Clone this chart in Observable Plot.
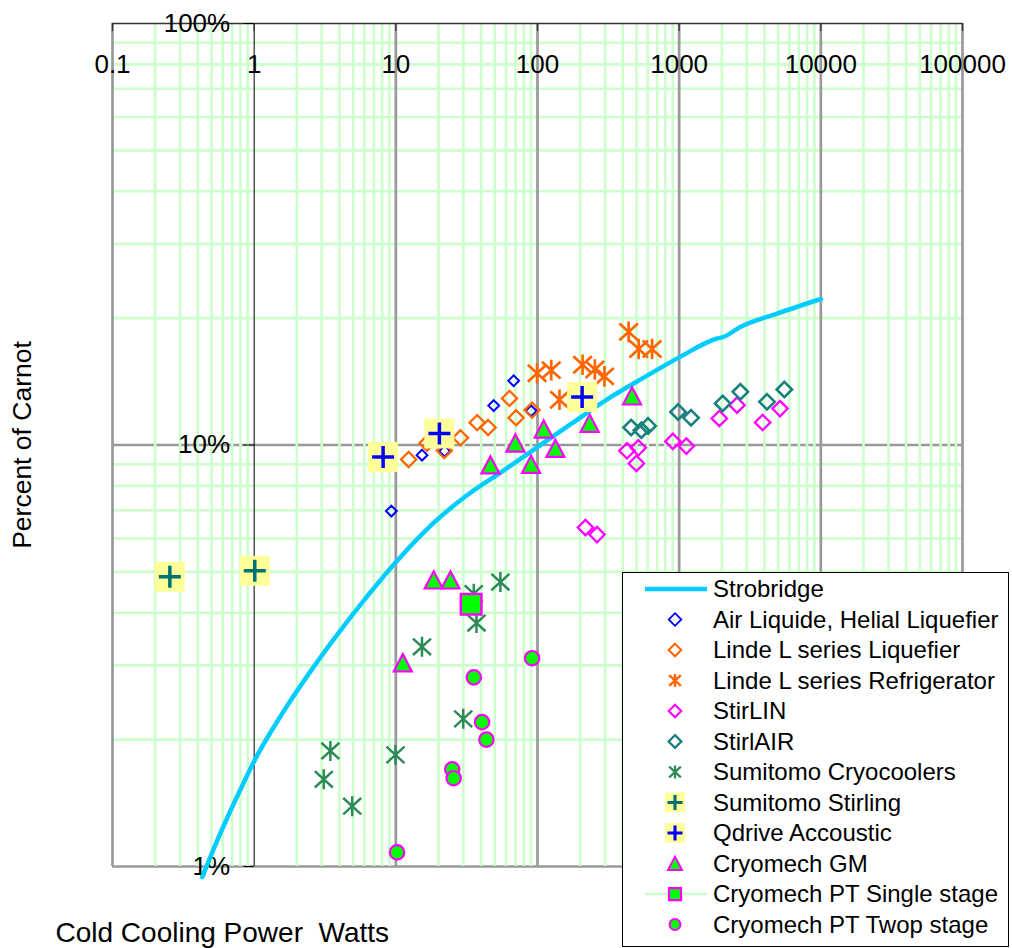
<!DOCTYPE html>
<html><head><meta charset="utf-8">
<script src="https://cdn.jsdelivr.net/npm/d3@7"></script>
<script src="https://cdn.jsdelivr.net/npm/@observablehq/plot@0.6"></script>
<style>
html,body{margin:0;padding:0;background:#fff;}
#wrap{position:relative;width:1012px;height:948px;font-family:"Liberation Sans",Arial,sans-serif;}
</style></head>
<body><div id="wrap"></div>
<script>
// ---------- data ----------
const xTicks = [0.1, 1, 10, 100, 1000, 10000, 100000];
const xTickLabels = ["0.1", "1", "10", "100", "1000", "10000", "100000"];
const yTicks = [1, 10, 100];
const yTickLabels = ["1%", "10%", "100%"];

const strobridgeW   = [0.43, 0.501, 0.631, 0.794, 1, 1.585, 2.512, 3.981, 6.31, 10, 17.78, 31.62, 56.23, 100, 177.8, 316.2, 562.3, 1000, 1851, 2059, 2704, 4909, 10000];
const strobridgePct = [0.944, 1.072, 1.282, 1.514, 1.778, 2.312, 2.911, 3.597, 4.385, 5.272, 6.457, 7.586, 8.65, 9.886, 11.3, 12.88, 14.45, 16.14, 17.89, 18.05, 19.06, 20.5, 22.2];

const airLiquideW   = [9.3, 15.3, 22.1, 49.1, 67.9, 90.2];
const airLiquidePct = [6.97, 9.46, 9.67, 12.4, 14.2, 12.05];

const lindeLiqW   = [12.3, 16.6, 22, 28.6, 37.5, 44.8, 63.4, 70.6, 91.6];
const lindeLiqPct = [9.24, 10.1, 9.7, 10.4, 11.3, 11.0, 12.9, 11.6, 12.1];

const lindeRefW   = [99.3, 125, 143, 208, 254, 297, 440, 518, 644];
const lindeRefPct = [14.8, 15.05, 12.8, 15.5, 15.1, 14.55, 18.55, 16.9, 16.9];

const stirlinW   = [218, 263, 428, 515, 499, 903, 1124, 1921, 2562, 3882, 5152];
const stirlinPct = [6.37, 6.13, 9.69, 9.85, 9.04, 10.2, 9.94, 11.56, 12.43, 11.31, 12.2];

const stirlairW   = [458, 541, 603, 982, 1213, 2028, 2704, 4169, 5526];
const stirlairPct = [11.0, 10.84, 11.1, 11.98, 11.6, 12.55, 13.37, 12.66, 13.54];

const sumiCryoW   = [54.7, 35.5, 37.1, 15.3, 29.9, 3.45, 9.94, 3.1, 4.92];
const sumiCryoPct = [4.73, 4.44, 3.78, 3.32, 2.24, 1.88, 1.84, 1.61, 1.39];

const sumiStirW   = [0.254, 1.01];
const sumiStirPct = [4.87, 5.03];

const qdriveW   = [8.13, 20.3, 206.5];
const qdrivePct = [9.37, 10.65, 13.0];

const gmW   = [46.5, 69.8, 90.1, 110.6, 133.8, 233.5, 465, 18.5, 24.3, 11.2];
const gmPct = [8.96, 10.1, 8.99, 10.9, 9.81, 11.25, 13.06, 4.78, 4.78, 3.04];

const ptSingleW   = [34];
const ptSinglePct = [4.19];

const ptTwoW   = [91.6, 35.5, 40.6, 43.6, 25.0, 25.6, 10.2];
const ptTwoPct = [3.12, 2.81, 2.2, 2.0, 1.70, 1.62, 1.08];

const seriesNames = ["Strobridge", "Air Liquide, Helial Liquefier", "Linde L series Liquefier",
  "Linde L series Refrigerator", "StirLIN", "StirlAIR", "Sumitomo Cryocoolers", "Sumitomo Stirling",
  "Qdrive Accoustic", "Cryomech GM", "Cryomech PT Single stage", "Cryomech PT Twop stage"];

// ---------- symbols ----------
const R = s => Math.sqrt(s / Math.PI);
const SYM = {
  diamond: {draw(c, s) {const r = R(s); c.moveTo(0, -r); c.lineTo(r, 0); c.lineTo(0, r); c.lineTo(-r, 0); c.closePath();}},
  asterisk: {draw(c, s) {const r = R(s), a = 0.9 * r, b = 0.82 * r;
    c.moveTo(0, -r); c.lineTo(0, r); c.moveTo(-a, -b); c.lineTo(a, b); c.moveTo(-a, b); c.lineTo(a, -b);}},
  plus: {draw(c, s) {const r = R(s); c.moveTo(-r, 0); c.lineTo(r, 0); c.moveTo(0, -r); c.lineTo(0, r);}},
  square: {draw(c, s) {const r = R(s); c.moveTo(-r, -r); c.lineTo(r, -r); c.lineTo(r, r); c.lineTo(-r, r); c.closePath();}},
  triangle: {draw(c, s) {const r = R(s); c.moveTo(0, -0.95 * r); c.lineTo(0.97 * r, 0.9 * r); c.lineTo(-0.97 * r, 0.9 * r); c.closePath();}},
  circle: {draw(c, s) {const r = R(s); c.moveTo(r, 0); c.arc(0, 0, r, 0, 2 * Math.PI);}}
};

const pts = (w, p) => w.map((d, i) => ({w: d, p: p[i]}));

// styles per series (lr = legend radius)
const S = [
  {data: pts(airLiquideW, airLiquidePct), layers: [{sym: "diamond", r: 5.4, lr: 6.3, fill: "none", stroke: "#0000ff", sw: 2}]},
  {data: pts(lindeLiqW, lindeLiqPct), layers: [{sym: "diamond", r: 7.6, lr: 6.3, fill: "none", stroke: "#ff6600", sw: 2.3}]},
  {data: pts(lindeRefW, lindeRefPct), layers: [{sym: "asterisk", r: 10.3, lr: 6.5, fill: "none", stroke: "#ff6600", sw: 2.7}]},
  {data: pts(stirlinW, stirlinPct), layers: [{sym: "diamond", r: 7.7, lr: 6.3, fill: "none", stroke: "#ff00ff", sw: 2.3}]},
  {data: pts(stirlairW, stirlairPct), layers: [{sym: "diamond", r: 7.7, lr: 6.3, fill: "none", stroke: "#1a7f7f", sw: 2.6}]},
  {data: pts(sumiCryoW, sumiCryoPct), layers: [{sym: "asterisk", r: 10, lr: 6.5, fill: "none", stroke: "#2e8b57", sw: 2.5}]},
  {data: pts(sumiStirW, sumiStirPct), layers: [
    {sym: "square", r: 15, lr: 10, fill: "#ffff99", stroke: "none", sw: 0},
    {sym: "plus", r: 11, lr: 7.5, fill: "none", stroke: "#007070", sw: 3.5}]},
  {data: pts(qdriveW, qdrivePct), layers: [
    {sym: "square", r: 15, lr: 10, fill: "#ffff99", stroke: "none", sw: 0},
    {sym: "plus", r: 11, lr: 7.5, fill: "none", stroke: "#0000ff", sw: 3.5}]},
  {data: pts(gmW, gmPct), layers: [{sym: "triangle", r: 9.3, lr: 7.2, fill: "#00ff00", stroke: "#ff00ff", sw: 2.2}]},
  {data: pts(ptSingleW, ptSinglePct), layers: [{sym: "square", r: 10.3, lr: 6, fill: "#00ff00", stroke: "#ff00ff", sw: 2.5}]},
  {data: pts(ptTwoW, ptTwoPct), layers: [{sym: "circle", r: 7.2, lr: 5.5, fill: "#00ff00", stroke: "#ff00ff", sw: 2.2}]}
];

// ---------- grid ----------
const xMinor = [], yMinor = [];
for (let k = -1; k <= 4; k++) for (let m = 2; m <= 9; m++) xMinor.push(m * 10 ** k);
for (let k = 0; k <= 1; k++) for (let m = 2; m <= 9; m++) yMinor.push(m * 10 ** k);
const xMajor = [0.1, 10, 100, 1000, 10000, 100000];
const yMajor = [1, 10];

const GREEN = "#ccffcc", GRAY = "#999999";
const FONT = "'Liberation Sans', Arial, sans-serif";

const marks = [
  Plot.ruleY(yMinor, {stroke: GREEN, strokeWidth: 2.6}),
  Plot.ruleY(yMajor, {stroke: GRAY, strokeWidth: 2.7}),
  Plot.ruleX(xMinor, {stroke: GREEN, strokeWidth: 2.6}),
  Plot.ruleX(xMajor, {stroke: GRAY, strokeWidth: 2.7}),
  Plot.ruleY([100], {stroke: "#333", strokeWidth: 1.3}),
  Plot.ruleX([1], {stroke: "#000", strokeWidth: 1}),
  Plot.ruleX(xTicks, {stroke: "#333", strokeWidth: 1.3, insetBottom: 835}),
  Plot.ruleY(yTicks, {x1: 1, x2: 1, insetLeft: -10, stroke: "#000", strokeWidth: 1}),
  Plot.text(xTicks, {x: d => d, text: (d, i) => xTickLabels[i], frameAnchor: "top", lineAnchor: "middle", dy: 41, fontSize: 26, fill: "#000"}),
  Plot.text(yTicks, {x: 1, y: d => d, text: (d, i) => yTickLabels[i], textAnchor: "end", lineAnchor: "middle", dx: -24, fontSize: 26, fill: "#000"}),
  Plot.text(["Percent of Carnot"], {frameAnchor: "left", textAnchor: "middle", lineAnchor: "middle", dx: -90, rotate: -90, fontSize: 26.5, fill: "#000"}),
  Plot.text(["Cold Cooling Power\u00a0 Watts"], {frameAnchor: "bottom-left", textAnchor: "start", lineAnchor: "middle", dx: -57, dy: 67, fontSize: 28, fill: "#000"}),
  Plot.line(pts(strobridgeW, strobridgePct), {x: "w", y: "p", stroke: "#00ccff", strokeWidth: 4.5, curve: "monotone-x"})
];
for (const s of S) for (const L of s.layers) {
  marks.push(Plot.dot(s.data, {x: "w", y: "p", symbol: SYM[L.sym], r: L.r, fill: L.fill, stroke: L.stroke, strokeWidth: L.sw}));
}

const chart = Plot.plot({
  width: 1012, height: 948,
  marginLeft: 112, marginRight: 50, marginTop: 23, marginBottom: 82,
  x: {type: "log", domain: [0.1, 100000], axis: null},
  y: {type: "log", domain: [1, 100], axis: null},
  style: {fontFamily: FONT, fontSize: "26px", background: "#fff", overflow: "visible"},
  marks
});
document.getElementById("wrap").appendChild(chart);

// ---------- legend ----------
const leg = d3.select("#wrap").append("svg")
  .attr("width", 390).attr("height", 376)
  .style("position", "absolute").style("left", "622px").style("top", "572px");
leg.append("rect").attr("x", 0.5).attr("y", 0.5).attr("width", 386).attr("height", 374)
  .attr("fill", "#fff").attr("stroke", "#000").attr("stroke-width", 1);
const rowY = i => 17 + i * 30.5;
const symX = 53;
leg.append("line").attr("x1", 23).attr("x2", 85).attr("y1", rowY(0)).attr("y2", rowY(0))
  .attr("stroke", "#00ccff").attr("stroke-width", 4.5);
leg.append("line").attr("x1", 23).attr("x2", 85).attr("y1", rowY(10)).attr("y2", rowY(10))
  .attr("stroke", GREEN).attr("stroke-width", 2.6);
S.forEach((s, k) => {
  const i = k + 1;
  for (const L of s.layers) {
    const p = d3.path();
    SYM[L.sym].draw(p, Math.PI * L.lr * L.lr);
    leg.append("path").attr("d", p.toString())
      .attr("transform", `translate(${symX},${rowY(i)})`)
      .attr("fill", L.fill).attr("stroke", L.stroke).attr("stroke-width", L.sw * 0.9);
  }
});
seriesNames.forEach((n, i) => {
  leg.append("text").attr("x", 91).attr("y", rowY(i)).attr("dy", "0.35em")
    .attr("font-family", FONT).attr("font-size", 24)
    .attr("fill", "#000").text(n);
});
</script>
</body></html>
